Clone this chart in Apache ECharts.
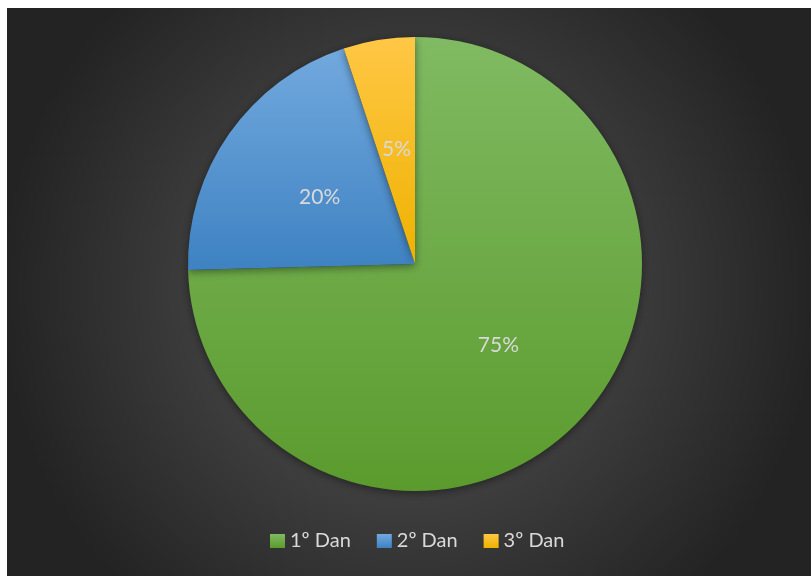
<!DOCTYPE html>
<html>
<head>
<meta charset="utf-8">
<script src="https://cdn.jsdelivr.net/npm/echarts@6/dist/echarts.min.js"></script>
<style>
html,body{margin:0;padding:0;background:#fff;}
#c{width:811px;height:576px;}
</style>
</head>
<body>
<div id="c"></div>
<script>
var categories = ['1º Dan', '2º Dan', '3º Dan'];
var values = [44, 12, 3];
var topColors = ['#80ba62', '#72a9de', '#ffc745'];
var bottomColors = ['#5b9b2d', '#3e82c2', '#eeb200'];

var chart = echarts.init(document.getElementById('c'), null, {renderer: 'canvas'});
var data = categories.map(function (name, i) {
  return {
    name: name,
    value: values[i],
    itemStyle: {
      color: new echarts.graphic.LinearGradient(0, 0, 0, 1, [
        {offset: 0, color: topColors[i]},
        {offset: 1, color: bottomColors[i]}
      ])
    }
  };
});

chart.setOption({
  backgroundColor: '#ffffff',
  graphic: [{
    type: 'rect',
    z: -10,
    silent: true,
    shape: {x: 7, y: 8, width: 804, height: 568},
    style: {
      fill: new echarts.graphic.RadialGradient(0.5, 0.5, 0.72, [
        {offset: 0, color: '#595959'},
        {offset: 1, color: '#232323'}
      ])
    }
  }],
  legend: {
    left: 270,
    top: 531,
    padding: 0,
    icon: 'rect',
    itemWidth: 15,
    itemHeight: 14,
    itemGap: 26,
    textStyle: {color: '#d9d9d9', fontSize: 20, fontFamily: 'Lato'},
    data: categories
  },
  series: [{
    type: 'pie',
    center: [415, 264],
    radius: 227,
    startAngle: 90,
    clockwise: true,
    data: data,
    label: {
      show: true,
      position: 'inside',
      formatter: function (p) { return Math.round(p.percent) + '%'; },
      color: '#d9d9d9',
      fontSize: 21,
      fontFamily: 'Lato',
      textBorderWidth: 0
    },
    labelLine: {show: false},
    itemStyle: {
      borderWidth: 0,
      shadowBlur: 8,
      shadowColor: 'rgba(0,0,0,0.45)',
      shadowOffsetY: 2
    },
    emphasis: {disabled: true}
  }]
});
</script>
</body>
</html>
